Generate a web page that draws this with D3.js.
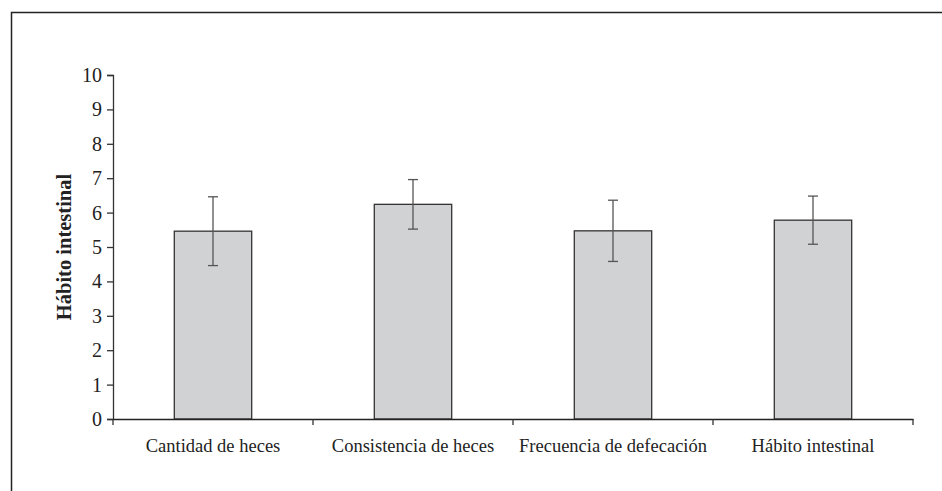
<!DOCTYPE html>
<html lang="es">
<head>
<meta charset="utf-8">
<title>Hábito intestinal</title>
<script src="https://d3js.org/d3.v7.min.js"></script>
<style>
  body { margin: 0; background: #fff; }
  svg text { font-family: "Liberation Serif", "DejaVu Serif", serif; fill: #222; }
</style>
</head>
<body>
<div id="chart"></div>
<script>
// data
var categories = ["Cantidad de heces", "Consistencia de heces", "Frecuencia de defecación", "Hábito intestinal"];
var means = [5.46, 6.24, 5.47, 5.78];
var errors = [1.0, 0.72, 0.89, 0.70];
var yTicks = [0, 1, 2, 3, 4, 5, 6, 7, 8, 9, 10];

var width = 942, height = 491;
var plotLeft = 113, plotRight = 913, plotTop = 75, plotBottom = 419;

var svg = d3.select("#chart").append("svg")
    .attr("width", width)
    .attr("height", height);

// outer frame (runs off the right and bottom edges)
svg.append("rect")
    .attr("x", 11.5).attr("y", 12.5)
    .attr("width", 960).attr("height", 520)
    .attr("fill", "none")
    .attr("stroke", "#222")
    .attr("stroke-width", 1.5);

var x = d3.scaleBand()
    .domain(categories)
    .range([plotLeft, plotRight])
    .paddingInner(0.613)
    .paddingOuter(0.3065);

var y = d3.scaleLinear().domain([0, 10]).range([plotBottom, plotTop]);

// bars
svg.selectAll(".bar")
    .data(means)
    .enter().append("rect")
    .attr("class", "bar")
    .attr("x", function(d, i) { return x(categories[i]); })
    .attr("y", function(d) { return y(d); })
    .attr("width", x.bandwidth())
    .attr("height", function(d) { return y(0) - y(d); })
    .attr("fill", "#d1d2d4")
    .attr("stroke", "#333")
    .attr("stroke-width", 1.3);

// error bars
var eb = svg.selectAll(".err")
    .data(means)
    .enter().append("g")
    .attr("class", "err")
    .attr("stroke", "#555")
    .attr("stroke-width", 1.3);

eb.append("line")
    .attr("x1", function(d, i) { return x(categories[i]) + x.bandwidth() / 2; })
    .attr("x2", function(d, i) { return x(categories[i]) + x.bandwidth() / 2; })
    .attr("y1", function(d, i) { return y(d + errors[i]); })
    .attr("y2", function(d, i) { return y(d - errors[i]); });

[1, -1].forEach(function(s) {
    eb.append("line")
        .attr("x1", function(d, i) { return x(categories[i]) + x.bandwidth() / 2 - 5; })
        .attr("x2", function(d, i) { return x(categories[i]) + x.bandwidth() / 2 + 5; })
        .attr("y1", function(d, i) { return y(d + s * errors[i]); })
        .attr("y2", function(d, i) { return y(d + s * errors[i]); });
});

// y axis
var yAxis = svg.append("g")
    .attr("transform", "translate(" + plotLeft + ",0)")
    .call(d3.axisLeft(y).tickValues(yTicks).tickSize(6).tickPadding(5));
yAxis.select(".domain").attr("stroke", "#333").attr("stroke-width", 1.3);
yAxis.selectAll(".tick line").attr("stroke", "#333").attr("stroke-width", 1.3);
yAxis.selectAll(".tick text").style("font-size", "20px").attr("fill", "#222");

// x axis: labels centred in bands, ticks on band boundaries
var xAxis = svg.append("g")
    .attr("transform", "translate(0," + plotBottom + ")")
    .call(d3.axisBottom(x).tickSize(0).tickPadding(20).tickSizeOuter(0));
xAxis.select(".domain").attr("stroke", "#222").attr("stroke-width", 1.5);
xAxis.selectAll(".tick text").style("font-size", "18.5px").attr("fill", "#222");

var step = x.step();
var bounds = d3.range(categories.length + 1).map(function(i) { return plotLeft + i * step; });
xAxis.selectAll(".bound")
    .data(bounds)
    .enter().append("line")
    .attr("class", "bound")
    .attr("x1", function(d) { return d; })
    .attr("x2", function(d) { return d; })
    .attr("y1", 0)
    .attr("y2", 6)
    .attr("stroke", "#333")
    .attr("stroke-width", 1.3);

// y axis title
svg.append("text")
    .attr("transform", "translate(71," + ((plotTop + plotBottom) / 2) + ") rotate(-90)")
    .attr("text-anchor", "middle")
    .style("font-size", "20.5px")
    .style("font-weight", "bold")
    .text("Hábito intestinal");
</script>
</body>
</html>
